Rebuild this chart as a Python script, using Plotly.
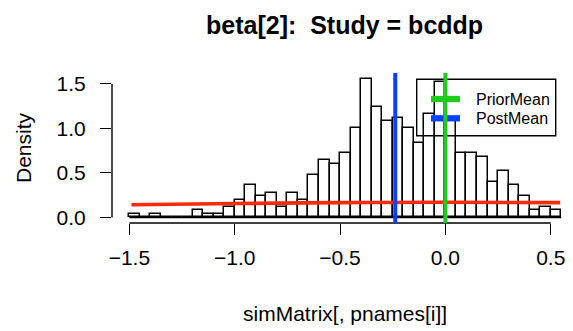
import plotly.graph_objects as go

# Histogram of posterior draws (density scale, bin width 0.05)
bin_left = [-1.50, -1.45, -1.40, -1.35, -1.30, -1.25, -1.20, -1.15, -1.10, -1.05,
            -1.00, -0.95, -0.90, -0.85, -0.80, -0.75, -0.70, -0.65, -0.60, -0.55,
            -0.50, -0.45, -0.40, -0.35, -0.30, -0.25, -0.20, -0.15, -0.10, -0.05,
            0.00, 0.05, 0.10, 0.15, 0.20, 0.25, 0.30, 0.35, 0.40, 0.45, 0.50]
density = [0.04, 0.00, 0.04, 0.00, 0.00, 0.00, 0.08, 0.04, 0.04, 0.12,
           0.20, 0.36, 0.24, 0.28, 0.12, 0.28, 0.20, 0.48, 0.64, 0.60,
           0.72, 1.00, 1.56, 1.24, 1.08, 1.12, 1.00, 0.84, 1.16, 1.52,
           1.08, 0.72, 0.72, 0.68, 0.40, 0.52, 0.36, 0.24, 0.08, 0.12, 0.08]
bin_width = 0.05

# Prior density curve
prior_x = [-1.49, -1.0, -0.5, 0.0, 0.545]
prior_y = [0.142, 0.156, 0.166, 0.170, 0.167]

prior_mean = 0.0
post_mean = -0.238

x_ticks = [-1.5, -1.0, -0.5, 0.0, 0.5]
y_ticks = [0.0, 0.5, 1.0, 1.5]

FONT = "Liberation Sans, Arial, Helvetica, sans-serif"
RED = "#ff2a00"
GREEN = "#1ecc1e"
BLUE = "#0a40ff"

W, H = 573, 331
ML, MR, MT, MB = 112, 0, 73, 108
PW, PH = W - ML - MR, H - MT - MB

def px_x(px):
    return (px - ML) / PW

def px_y(py):
    return (H - MB - py) / PH

centers = [b + bin_width / 2 for b in bin_left]

fig = go.Figure()
fig.add_trace(go.Bar(
    x=centers, y=density, width=bin_width,
    marker=dict(color="white", line=dict(color="black", width=1.5)),
    hoverinfo="skip", showlegend=False,
))
fig.add_trace(go.Scatter(
    x=prior_x, y=prior_y, mode="lines", line=dict(color=RED, width=3.6, shape="spline"),
    hoverinfo="skip", showlegend=False,
))

shapes = []
# baseline of the histogram (empty bins)
shapes.append(dict(type="line", xref="x", yref="y", x0=bin_left[0], x1=bin_left[-1] + bin_width,
                   y0=0, y1=0, line=dict(color="black", width=1.5), layer="below"))
# axis lines spanning first to last tick
shapes.append(dict(type="line", xref="x", yref="paper", x0=x_ticks[0], x1=x_ticks[-1], y0=0, y1=0,
                   line=dict(color="black", width=1.4)))
shapes.append(dict(type="line", xref="paper", yref="y", x0=0, x1=0, y0=y_ticks[0], y1=y_ticks[-1],
                   line=dict(color="black", width=1.4)))

# legend box and keys
lg_left, lg_right = px_x(416.7), px_x(555.7)
lg_top, lg_bot = px_y(79.3), px_y(135.7)
shapes.append(dict(type="rect", xref="paper", yref="paper", x0=lg_left, x1=lg_right, y0=lg_bot, y1=lg_top,
                   line=dict(color="black", width=1.4), fillcolor="rgba(0,0,0,0)"))
legend_items = [("PriorMean", GREEN, 99.0), ("PostMean", BLUE, 118.3)]
for name, col, py in legend_items:
    shapes.append(dict(type="line", xref="paper", yref="paper", x0=px_x(431), x1=px_x(460),
                       y0=px_y(py), y1=px_y(py), line=dict(color=col, width=6.3)))

# mean lines
shapes.append(dict(type="line", xref="x", yref="paper", x0=post_mean, x1=post_mean, y0=0, y1=1,
                   line=dict(color=BLUE, width=4)))
shapes.append(dict(type="line", xref="x", yref="paper", x0=prior_mean, x1=prior_mean, y0=0, y1=1,
                   line=dict(color=GREEN, width=4)))

annotations = []
for name, col, py in legend_items:
    annotations.append(dict(text=name, xref="paper", yref="paper", x=px_x(474), y=px_y(py),
                            xanchor="left", yanchor="middle", showarrow=False,
                            font=dict(family=FONT, size=16, color="black")))
annotations.append(dict(text="<b>beta[2]:\u00a0\u00a0Study = bcddp</b>", xref="paper", yref="paper",
                        x=px_x(344), y=px_y(25), xanchor="center", yanchor="middle", showarrow=False,
                        font=dict(family=FONT, size=25, color="black")))
annotations.append(dict(text="simMatrix[, pnames[i]]", xref="paper", yref="paper",
                        x=px_x(345), y=px_y(313), xanchor="center", yanchor="middle", showarrow=False,
                        font=dict(family=FONT, size=21, color="black")))
annotations.append(dict(text="Density", xref="paper", yref="paper", textangle=-90,
                        x=px_x(23), y=px_y(148), xanchor="center", yanchor="middle", showarrow=False,
                        font=dict(family=FONT, size=21, color="black")))

fig.update_layout(
    width=W, height=H,
    margin=dict(l=ML, r=MR, t=MT, b=MB, pad=0),
    paper_bgcolor="white", plot_bgcolor="white",
    bargap=0, showlegend=False,
    shapes=shapes, annotations=annotations,
    font=dict(family=FONT, size=21, color="black"),
)
fig.update_xaxes(range=[-1.5824, 0.6056], tickvals=x_ticks, ticktext=["\u22121.5", "\u22121.0", "\u22120.5", "0.0", "0.5"],
                 ticks="outside", ticklen=11, tickwidth=1.4, tickcolor="black",
                 showgrid=False, zeroline=False, showline=False, ticklabelstandoff=5,
                 tickfont=dict(family=FONT, size=21, color="black"))
fig.update_yaxes(range=[-0.0624, 1.6224], tickvals=y_ticks, ticktext=["0.0", "0.5", "1.0", "1.5"],
                 ticks="outside", ticklen=11, tickwidth=1.4, tickcolor="black",
                 showgrid=False, zeroline=False, showline=False, ticklabelstandoff=10,
                 tickfont=dict(family=FONT, size=21, color="black"))

fig.write_html("out.html")
